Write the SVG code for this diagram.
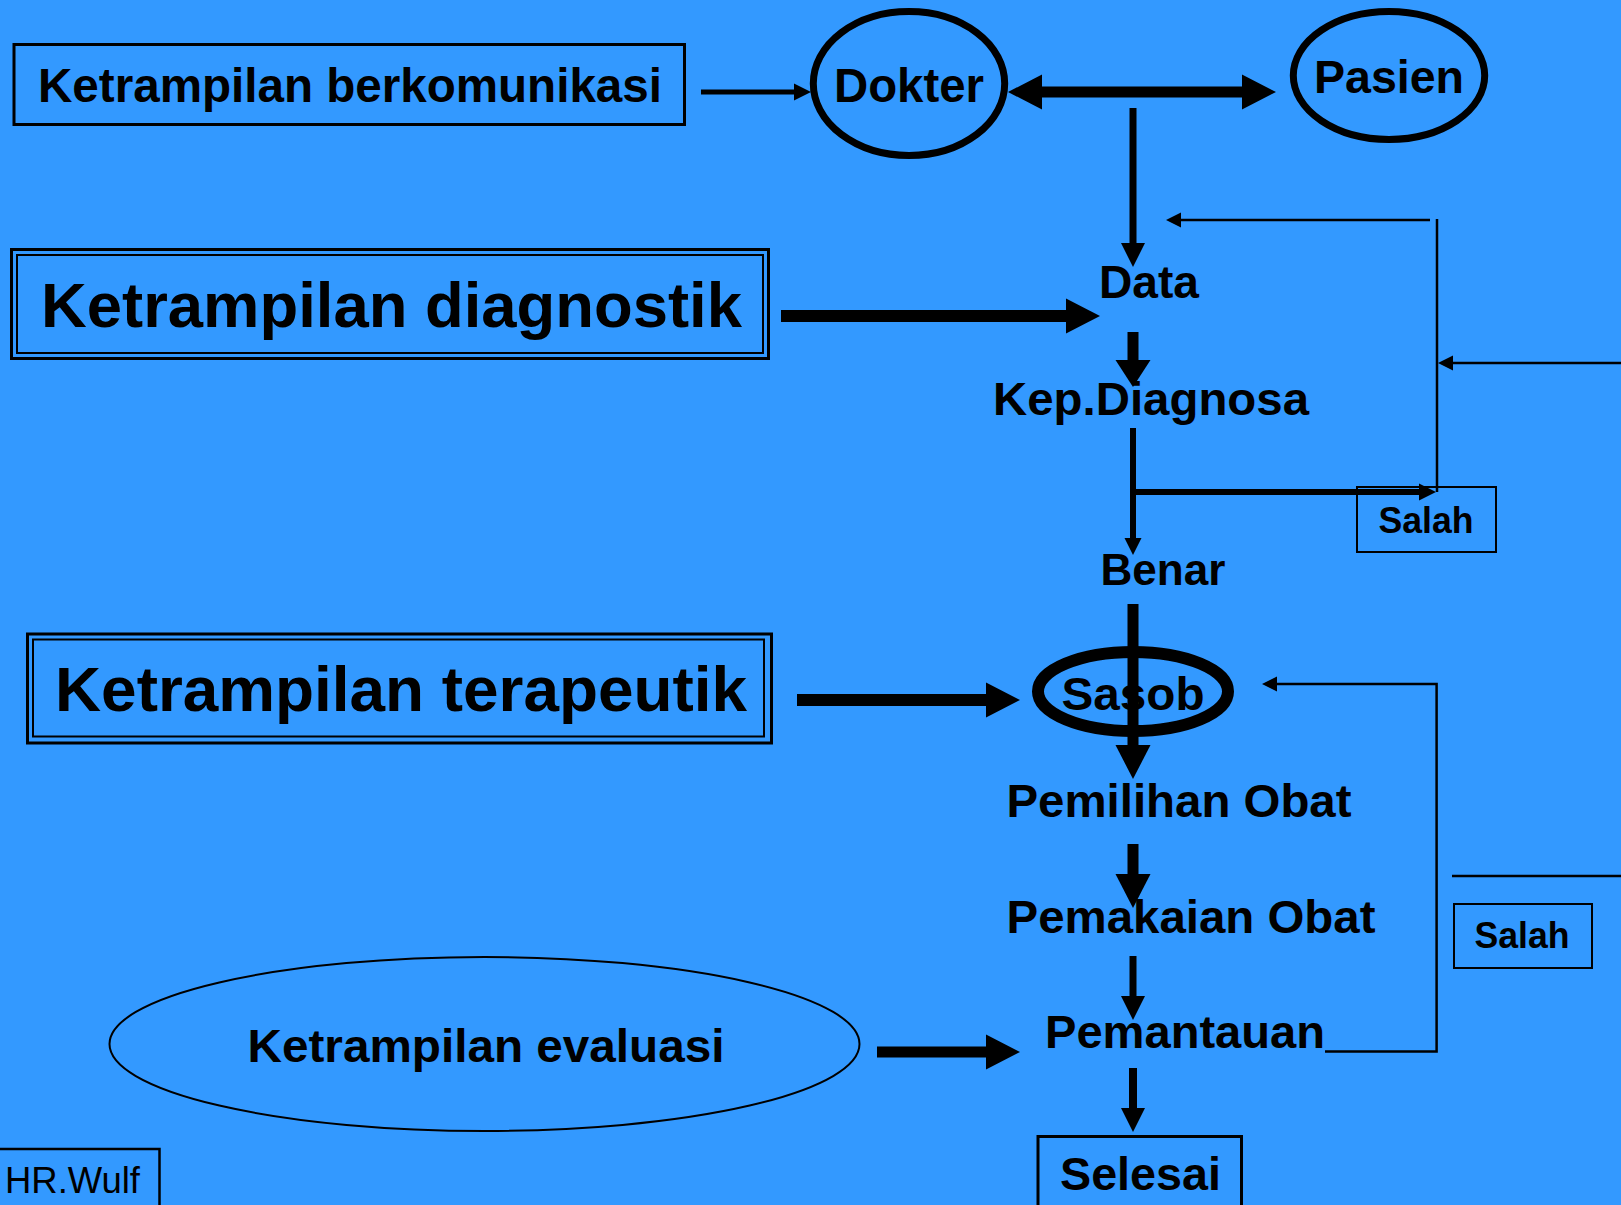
<svg xmlns="http://www.w3.org/2000/svg" width="1621" height="1205" viewBox="0 0 1621 1205">
  <style>
    .lbl { font-family: "Liberation Sans", Arial, sans-serif; font-weight: bold; fill: #000; }
    .plain { font-family: "Liberation Sans", Arial, sans-serif; font-weight: normal; fill: #000; }
    .shape { fill: none; stroke: #000; }
    .ln { fill: none; stroke: #000; stroke-linecap: butt; }
  </style>
  <defs>
    <marker id="hThick" markerUnits="userSpaceOnUse" markerWidth="36" markerHeight="36" viewBox="0 -18 36 36" refX="0" refY="0" orient="auto-start-reverse">
      <path d="M0,-17.5 L34,0 L0,17.5 z" fill="#000"/>
    </marker>
    <marker id="hThickShort" markerUnits="userSpaceOnUse" markerWidth="36" markerHeight="36" viewBox="0 -18 36 36" refX="0" refY="0" orient="auto">
      <path d="M0,-17.5 L27,0 L0,17.5 z" fill="#000"/>
    </marker>
    <marker id="hMed" markerUnits="userSpaceOnUse" markerWidth="26" markerHeight="26" viewBox="0 -13 26 26" refX="0" refY="0" orient="auto">
      <path d="M0,-12 L24,0 L0,12 z" fill="#000"/>
    </marker>
    <marker id="hSmall" markerUnits="userSpaceOnUse" markerWidth="20" markerHeight="20" viewBox="0 -10 20 20" refX="0" refY="0" orient="auto">
      <path d="M0,-8.5 L17,0 L0,8.5 z" fill="#000"/>
    </marker>
    <marker id="hThin" markerUnits="userSpaceOnUse" markerWidth="18" markerHeight="18" viewBox="0 -9 18 18" refX="0" refY="0" orient="auto">
      <path d="M0,-7.5 L15,0 L0,7.5 z" fill="#000"/>
    </marker>
  </defs>

  <rect x="0" y="0" width="1621" height="1205" fill="#3399FF"/>

  <!-- nodes -->
  <g id="node-komunikasi">
    <rect class="shape" x="14" y="44.5" width="670.5" height="80" stroke-width="3"/>
    <text class="lbl" x="38" y="102" font-size="47.5" textLength="624" lengthAdjust="spacingAndGlyphs">Ketrampilan berkomunikasi</text>
  </g>

  <g id="node-dokter">
    <ellipse class="shape" cx="909" cy="83.5" rx="95.7" ry="72" stroke-width="7"/>
    <text class="lbl" x="909" y="101.7" font-size="48" text-anchor="middle" textLength="150" lengthAdjust="spacingAndGlyphs">Dokter</text>
  </g>

  <g id="node-pasien">
    <ellipse class="shape" cx="1389" cy="75.5" rx="95.7" ry="64" stroke-width="7"/>
    <text class="lbl" x="1389" y="93" font-size="47" text-anchor="middle" textLength="150" lengthAdjust="spacingAndGlyphs">Pasien</text>
  </g>

  <g id="node-diagnostik">
    <rect class="shape" x="11.5" y="249.5" width="757" height="109" stroke-width="3"/>
    <rect class="shape" x="17" y="255" width="746" height="98" stroke-width="2"/>
    <text class="lbl" x="41" y="327" font-size="63" textLength="701" lengthAdjust="spacingAndGlyphs">Ketrampilan diagnostik</text>
  </g>

  <g id="node-data">
    <text class="lbl" x="1149" y="298" font-size="46" text-anchor="middle" textLength="100" lengthAdjust="spacingAndGlyphs">Data</text>
  </g>

  <g id="node-kepdiagnosa">
    <text class="lbl" x="1151" y="415" font-size="47" text-anchor="middle" textLength="316" lengthAdjust="spacingAndGlyphs">Kep.Diagnosa</text>
  </g>

  <g id="node-salah1">
    <rect class="shape" x="1357" y="487" width="139" height="65" stroke-width="2"/>
    <text class="lbl" x="1426" y="532.7" font-size="36" text-anchor="middle" textLength="95" lengthAdjust="spacingAndGlyphs">Salah</text>
  </g>

  <g id="node-benar">
    <text class="lbl" x="1163" y="585" font-size="45" text-anchor="middle" textLength="125" lengthAdjust="spacingAndGlyphs">Benar</text>
  </g>

  <g id="node-terapeutik">
    <rect class="shape" x="27.5" y="634" width="744" height="109" stroke-width="3"/>
    <rect class="shape" x="33" y="639.5" width="731" height="97" stroke-width="2"/>
    <text class="lbl" x="401" y="710.7" font-size="63" text-anchor="middle" textLength="692" lengthAdjust="spacingAndGlyphs">Ketrampilan terapeutik</text>
  </g>

  <g id="node-sasob">
    <ellipse class="shape" cx="1133" cy="691.5" rx="95" ry="39.5" stroke-width="12"/>
    <text class="lbl" x="1133" y="710" font-size="47" text-anchor="middle" textLength="143" lengthAdjust="spacingAndGlyphs">Sasob</text>
  </g>

  <g id="node-pemilihan">
    <text class="lbl" x="1179" y="817" font-size="47" text-anchor="middle" textLength="345" lengthAdjust="spacingAndGlyphs">Pemilihan Obat</text>
  </g>

  <g id="node-pemakaian">
    <text class="lbl" x="1191" y="933" font-size="47" text-anchor="middle" textLength="369" lengthAdjust="spacingAndGlyphs">Pemakaian Obat</text>
  </g>

  <g id="node-pemantauan">
    <text class="lbl" x="1185" y="1048" font-size="47" text-anchor="middle" textLength="280" lengthAdjust="spacingAndGlyphs">Pemantauan</text>
  </g>

  <g id="node-salah2">
    <rect class="shape" x="1454" y="904" width="138" height="64" stroke-width="2"/>
    <text class="lbl" x="1522" y="948" font-size="36" text-anchor="middle" textLength="95" lengthAdjust="spacingAndGlyphs">Salah</text>
  </g>

  <g id="node-evaluasi">
    <ellipse class="shape" cx="484.5" cy="1044" rx="375" ry="87" stroke-width="2"/>
    <text class="lbl" x="486" y="1061.7" font-size="47" text-anchor="middle" textLength="477" lengthAdjust="spacingAndGlyphs">Ketrampilan evaluasi</text>
  </g>

  <g id="node-selesai">
    <rect class="shape" x="1038" y="1136.5" width="203.5" height="80" stroke-width="3"/>
    <text class="lbl" x="1140.5" y="1190" font-size="47" text-anchor="middle" textLength="161" lengthAdjust="spacingAndGlyphs">Selesai</text>
  </g>

  <g id="node-author">
    <rect class="shape" x="-2" y="1149" width="161.5" height="70" stroke-width="2.5"/>
    <text class="plain" x="5" y="1193" font-size="37" textLength="135" lengthAdjust="spacingAndGlyphs">HR.Wulf</text>
  </g>

  <!-- connectors -->
  <g id="connectors">
    <!-- communication skill to doctor -->
    <line class="ln" x1="701" y1="92" x2="794" y2="92" stroke-width="5" marker-end="url(#hSmall)"/>
    <!-- doctor <-> patient -->
    <line class="ln" x1="1042" y1="92" x2="1242" y2="92" stroke-width="11" marker-start="url(#hThick)" marker-end="url(#hThick)"/>
    <!-- main flow -->
    <line class="ln" x1="1133" y1="108" x2="1133" y2="243" stroke-width="7" marker-end="url(#hMed)"/>
    <line class="ln" x1="781" y1="316" x2="1066" y2="316" stroke-width="12" marker-end="url(#hThick)"/>
    <line class="ln" x1="1133" y1="332" x2="1133" y2="360" stroke-width="11" marker-end="url(#hThickShort)"/>
    <line class="ln" x1="1133" y1="428" x2="1133" y2="538" stroke-width="6" marker-end="url(#hSmall)"/>
    <line class="ln" x1="1133" y1="492" x2="1419" y2="492" stroke-width="6" marker-end="url(#hSmall)"/>
    <!-- wrong diagnosis loops back to data -->
    <line class="ln" x1="1437" y1="219" x2="1437" y2="492" stroke-width="2.5"/>
    <line class="ln" x1="1430" y1="220" x2="1181" y2="220" stroke-width="2.5" marker-end="url(#hThin)"/>
    <line class="ln" x1="1621" y1="363" x2="1453" y2="363" stroke-width="2.5" marker-end="url(#hThin)"/>
    <!-- therapy path -->
    <line class="ln" x1="797" y1="700" x2="986" y2="700" stroke-width="12" marker-end="url(#hThick)"/>
    <line class="ln" x1="1133" y1="604" x2="1133" y2="745" stroke-width="11" marker-end="url(#hThick)"/>
    <line class="ln" x1="1133" y1="844" x2="1133" y2="874" stroke-width="11" marker-end="url(#hThick)"/>
    <line class="ln" x1="1133" y1="956" x2="1133" y2="996" stroke-width="7" marker-end="url(#hMed)"/>
    <line class="ln" x1="877" y1="1052" x2="986" y2="1052" stroke-width="11" marker-end="url(#hThick)"/>
    <!-- monitoring loops back to target -->
    <path class="ln" d="M1325,1051.5 H1436.6 V684 H1277" stroke-width="2.5" marker-end="url(#hThin)"/>
    <line class="ln" x1="1452" y1="876" x2="1621" y2="876" stroke-width="2.5"/>
    <line class="ln" x1="1133" y1="1068" x2="1133" y2="1108" stroke-width="8" marker-end="url(#hMed)"/>
  </g>
</svg>
